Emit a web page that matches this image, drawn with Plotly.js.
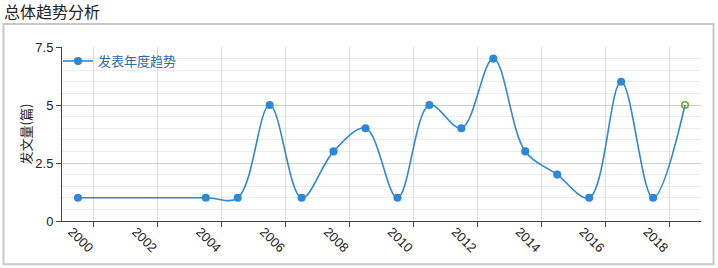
<!DOCTYPE html>
<html>
<head>
<meta charset="utf-8">
<script src="https://cdn.plot.ly/plotly-3.0.1.min.js"></script>
<style>
html,body{margin:0;padding:0;background:#fff;}
#chart{width:718px;height:268px;}
</style>
</head>
<body>
<div id="chart"></div>
<script>
// Data (years plotted at mid-year positions)
var years = [1999.5, 2003.5, 2004.5, 2005.5, 2006.5, 2007.5, 2008.5, 2009.5, 2010.5, 2011.5, 2012.5, 2013.5, 2014.5, 2015.5, 2016.5, 2017.5, 2018.5];
var counts = [1, 1, 1, 5, 1, 3, 4, 1, 5, 4, 7, 3, 2, 1, 6, 1, 5];
var xTickVals = [2000, 2002, 2004, 2006, 2008, 2010, 2012, 2014, 2016, 2018];
var xTickText = ['2000', '2002', '2004', '2006', '2008', '2010', '2012', '2014', '2016', '2018'];
var seriesName = '发表年度趋势';
var yTitle = '发文量(篇)';
var chartTitle = '总体趋势分析';

var blue = '#2e88d8';
var green = '#6aad2c';
var n = counts.length;
var mColors = counts.map(function(v, i){ return i === n - 1 ? green : blue; });
var mSymbols = counts.map(function(v, i){ return i === n - 1 ? 'circle-open' : 'circle'; });

var font = 'Liberation Sans, Arial, Noto Sans CJK SC, sans-serif';
var cjk = 'Noto Sans CJK SC, Liberation Sans, sans-serif';

var trace = {
  x: years, y: counts, name: seriesName, type: 'scatter', mode: 'lines+markers',
  line: {color: blue, width: 1.6, shape: 'spline', smoothing: 1},
  marker: {color: mColors, symbol: mSymbols, size: 6.5, line: {width: 1.6, color: mColors}},
  showlegend: true
};

var L = 62, R = 17, T = 47, B = 47.3;
var W = 718, H = 268;
var pw = W - L - R, ph = H - T - B;

var layout = {
  width: W, height: H,
  margin: {l: L, r: R, t: T, b: B, pad: 0},
  paper_bgcolor: '#fff', plot_bgcolor: '#fff',
  title: {text: chartTitle, font: {family: cjk, size: 16, color: '#222'},
          xref: 'container', x: 4 / W, xanchor: 'left', yref: 'container', y: 1 - 12 / H, yanchor: 'middle'},
  xaxis: {
    range: [1999, 2019], tickmode: 'array', tickvals: xTickVals, ticktext: xTickText,
    tickangle: 45, ticks: 'outside', ticklen: 5, tickcolor: '#444',
    showline: true, linecolor: '#444', linewidth: 1,
    showgrid: true, gridcolor: '#dcdcdc', gridwidth: 1, zeroline: false,
    tickfont: {family: font, size: 13, color: '#222'},
    ticklabelshift: -22, ticklabelstandoff: -8
  },
  yaxis: {
    range: [0, 7.5], tickmode: 'linear', tick0: 0, dtick: 2.5,
    ticks: 'outside', ticklen: 5, tickcolor: '#444',
    showline: true, linecolor: '#444', linewidth: 1,
    showgrid: true, gridcolor: '#cfcfcf', gridwidth: 1, zeroline: false,
    minor: {dtick: 0.5, showgrid: true, gridcolor: '#ececec', gridwidth: 1},
    tickfont: {family: font, size: 13, color: '#222'},
    title: {text: yTitle, font: {family: cjk, size: 13, color: '#222'}, standoff: 0}
  },
  legend: {x: -4 / pw, xanchor: 'left', y: 1 + 1 / ph, yanchor: 'top', bgcolor: 'rgba(0,0,0,0)',
           font: {family: cjk, size: 13, color: '#2f69a8'}, itemwidth: 30},
  shapes: [{
    type: 'rect', xref: 'paper', yref: 'paper', layer: 'below',
    x0: (3.5 - L) / pw, x1: (713.5 - L) / pw,
    y0: -(264 - (H - B)) / ph, y1: ((H - B) - 24) / ph,
    line: {color: '#c8c8c8', width: 2}, fillcolor: 'rgba(0,0,0,0)'
  }]
};

Plotly.newPlot('chart', [trace], layout, {displayModeBar: false, staticPlot: true});
</script>
</body>
</html>
